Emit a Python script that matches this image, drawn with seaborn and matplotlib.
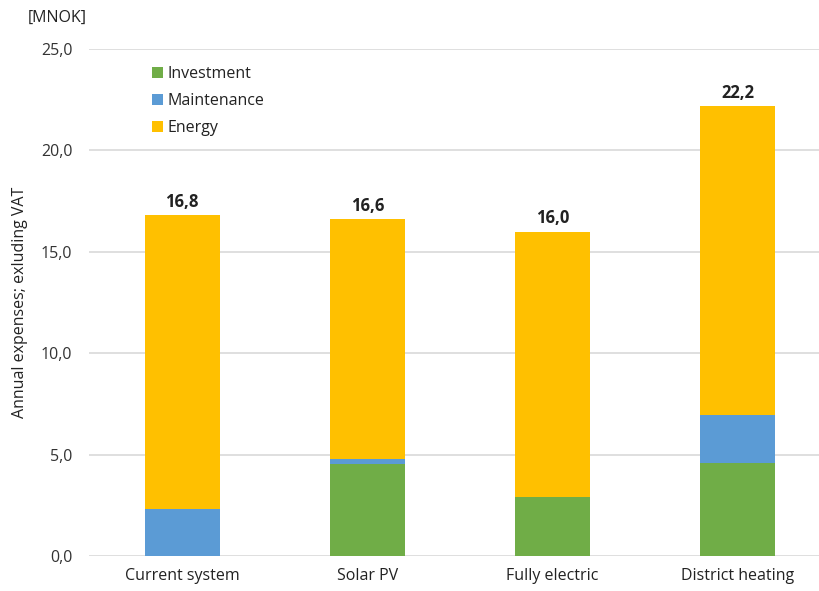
import matplotlib
matplotlib.use("Agg")
import matplotlib.pyplot as plt
from matplotlib.patches import Patch
import seaborn as sns
import pandas as pd
import numpy as np

categories = ["Current system", "Solar PV", "Fully electric", "District heating"]
investment = [0.0, 4.53, 2.90, 4.57]
maintenance = [2.30, 0.27, 0.0, 2.38]
energy = [14.50, 11.80, 13.10, 15.25]

series_names = ["Investment", "Maintenance", "Energy"]
colors = {"Investment": "#70AD47", "Maintenance": "#5B9BD5", "Energy": "#FFC000"}
yticks = [0, 5, 10, 15, 20, 25]

sns.set_theme(style="white")
plt.rcParams["font.family"] = ["Open Sans", "DejaVu Sans"]

df = pd.DataFrame({
    "category": categories,
    "Investment": investment,
    "Maintenance": maintenance,
    "Energy": energy,
})
# cumulative heights for stacking (drawn tallest first)
df["cum_Investment"] = df["Investment"]
df["cum_Maintenance"] = df["Investment"] + df["Maintenance"]
df["cum_Energy"] = df["cum_Maintenance"] + df["Energy"]

fig = plt.figure(figsize=(8.19, 5.91), dpi=100)
ax = fig.add_axes([89 / 819, 35 / 591, (819 - 89) / 819, (556 - 49) / 591])

for name in reversed(series_names):
    sns.barplot(data=df, x="category", y="cum_" + name, color=colors[name],
                width=0.405, saturation=1, linewidth=0, ax=ax, zorder=3)

ax.set_ylim(0, 25)
ax.set_xlim(-0.503, 3.44)
ax.set_yticks(yticks)
ax.set_yticklabels([f"{v:.1f}".replace(".", ",") for v in yticks],
                   fontsize=11.5, color="#333333")
ax.tick_params(axis="x", labelsize=11.5, labelcolor="#222222", length=0, pad=9)
ax.tick_params(axis="y", length=0, pad=12)
ax.set_xlabel("")
ax.set_ylabel("Annual expenses; exluding VAT", fontsize=11.5, color="#222222")
ax.yaxis.set_label_coords(-0.083, 0.5)
ax.grid(axis="y", color="#D9D9D9", linewidth=1.2, zorder=0)
ax.set_axisbelow(True)
for s in ax.spines.values():
    s.set_visible(False)

totals = df["cum_Energy"].to_numpy()
for i, t in enumerate(totals):
    ax.text(i, t + 0.2, f"{t:.1f}".replace(".", ","), ha="center", va="bottom",
            fontsize=12, fontweight="bold", color="#222222")

fig.text(28 / 819, 1 - 18 / 591, "[MNOK]", fontsize=11.5, color="#222222",
         ha="left", va="center")

handles = [Patch(facecolor=colors[n], edgecolor="none", label=n) for n in series_names]
ax.legend(handles=handles, loc="upper left", bbox_to_anchor=(0.066, 0.995),
          frameon=False, fontsize=11.5, handlelength=0.7, handleheight=0.7,
          handletextpad=0.3, labelspacing=0.7, labelcolor="#222222")

fig.savefig("out.png", dpi=100)
